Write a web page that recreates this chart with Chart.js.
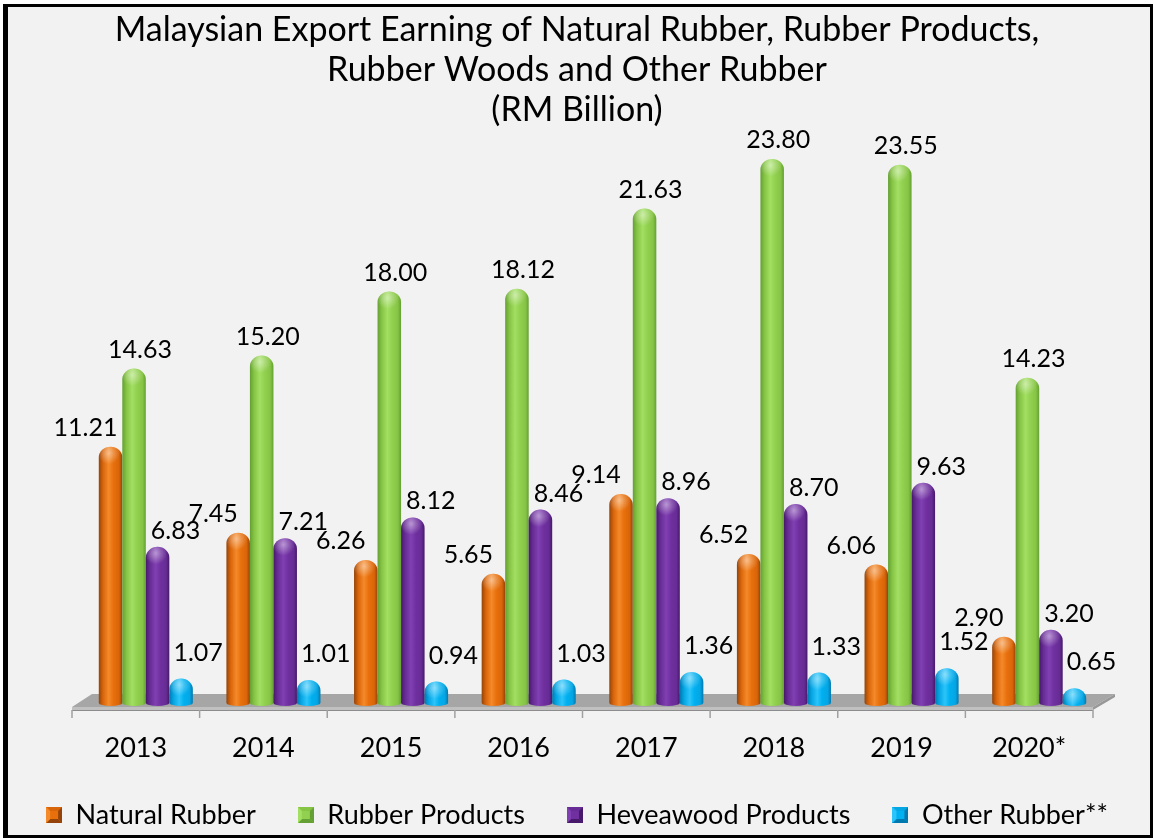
<!DOCTYPE html>
<html><head><meta charset="utf-8">
<script src="https://cdn.jsdelivr.net/npm/chart.js@4.4.0/dist/chart.umd.min.js"></script>
<style>
html,body{margin:0;padding:0;background:#fff;width:1154px;height:840px;overflow:hidden;}
#frame{position:absolute;left:3px;top:4px;width:1142px;height:828px;background:#f2f2f2;border:3px solid #000;border-left-width:5px;}
#c{position:absolute;left:0;top:0;}
</style></head><body>
<div id="frame"></div>
<canvas id="c" width="1154" height="840"></canvas>
<script>
// ---- data ----
const years = ['2013','2014','2015','2016','2017','2018','2019','2020*'];
const naturalRubber     = [11.21, 7.45, 6.26, 5.65, 9.14, 6.52, 6.06, 2.90];
const rubberProducts    = [14.63, 15.20, 18.00, 18.12, 21.63, 23.80, 23.55, 14.23];
const heveawoodProducts = [6.83, 7.21, 8.12, 8.46, 8.96, 8.70, 9.63, 3.20];
const otherRubber       = [1.07, 1.01, 0.94, 1.03, 1.36, 1.33, 1.52, 0.65];
const seriesNames = ['Natural Rubber', 'Rubber Products', 'Heveawood Products', 'Other Rubber**'];
const titleLines = ['Malaysian Export Earning of Natural Rubber, Rubber Products,', 'Rubber Woods and Other Rubber', '(RM Billion)'];
const yMax = 25;

// ---- styles ----
const FONT = 'Lato, "Open Sans", sans-serif';
const seriesStyle = [
  {base:'#E8700C', edge:'#94440a', mid:'#d9650a', light:'#f58a2a', lbl:{dx:-25, dy:-19}},
  {base:'#92D050', edge:'#64a033', mid:'#86c445', light:'#a2df62', lbl:{dx:6,  dy:-19}},
  {base:'#7030A0', edge:'#46196a', mid:'#672c95', light:'#8040b2', lbl:{dx:18, dy:-16}},
  {base:'#00B0F0', edge:'#0079b0', mid:'#05a6e4', light:'#2cc4fa', lbl:{dx:17, dy:-26}}
];
const BAR_SHIFT = 10;

function makeIcon(st){
  const c = document.createElement('canvas'); c.width = 16; c.height = 16;
  const g = c.getContext('2d');
  const tri = (pts, col) => { g.beginPath(); g.moveTo(pts[0],pts[1]); g.lineTo(pts[2],pts[3]); g.lineTo(pts[4],pts[5]); g.lineTo(pts[6],pts[7]); g.closePath(); g.fillStyle = col; g.fill(); };
  g.fillStyle = st.base; g.fillRect(0,0,16,16);
  tri([0,0,16,0,12,4,4,4], st.mid);
  tri([0,16,16,16,12,12,4,12], st.edge);
  tri([0,0,4,4,4,12,0,16], st.light);
  tri([16,0,12,4,12,12,16,16], st.edge);
  g.fillStyle = st.base; g.fillRect(4,4,8,8);
  return c;
}
const icons = seriesStyle.map(makeIcon);

function drawCylinder(ctx, cx, top, base, w, st){
  const r = w/2, L = cx - r, R = cx + r;
  const h = base - top;
  const ry = Math.min(r*0.9, h*0.75);
  const path = () => {
    ctx.beginPath();
    ctx.moveTo(L, base);
    ctx.lineTo(L, top + ry);
    ctx.ellipse(cx, top + ry, r, ry, 0, Math.PI, 2*Math.PI);
    ctx.lineTo(R, base);
    ctx.ellipse(cx, base, r, 3, 0, 0, Math.PI);
    ctx.closePath();
  };
  const g = ctx.createLinearGradient(L, 0, R, 0);
  g.addColorStop(0, st.edge);
  g.addColorStop(0.18, st.mid);
  g.addColorStop(0.42, st.light);
  g.addColorStop(0.62, st.base);
  g.addColorStop(0.86, st.mid);
  g.addColorStop(1, st.edge);
  ctx.save();
  path();
  ctx.fillStyle = g; ctx.fill();
  ctx.clip();
  const rg = ctx.createRadialGradient(cx - r*0.15, top + ry*0.6, 0, cx - r*0.15, top + ry*0.6, r*0.95);
  rg.addColorStop(0, 'rgba(255,255,255,0.45)');
  rg.addColorStop(1, 'rgba(255,255,255,0)');
  ctx.fillStyle = rg;
  ctx.fillRect(L, top, w, ry*2);
  ctx.restore();
}

const floorPlugin = {
  id: 'floor3d',
  beforeDatasetsDraw(chart){
    const {ctx, chartArea:{left, right, bottom}} = chart;
    const back = bottom - 9, front = bottom + 4, faceB = bottom + 7;
    const dL = 20, dR = 22;
    ctx.save();
    ctx.fillStyle = '#a6a6a6';
    ctx.beginPath(); ctx.moveTo(left, front); ctx.lineTo(right, front); ctx.lineTo(right + dR, back); ctx.lineTo(left + dL, back); ctx.closePath(); ctx.fill();
    ctx.fillStyle = '#c0c0c0'; ctx.fillRect(left, front, right - left, faceB - front);
    ctx.fillStyle = '#989898';
    ctx.beginPath(); ctx.moveTo(right, front); ctx.lineTo(right + dR, back); ctx.lineTo(right + dR, back + 3); ctx.lineTo(right, faceB); ctx.closePath(); ctx.fill();
    ctx.strokeStyle = '#8c8c8c'; ctx.lineWidth = 1;
    ctx.beginPath(); ctx.moveTo(left, faceB + 0.5); ctx.lineTo(right, faceB + 0.5); ctx.stroke();
    const xs = chart.scales.x;
    const n = years.length;
    ctx.strokeStyle = '#a0a0a0'; ctx.lineWidth = 1.5;
    for (let i = 0; i <= n; i++){
      let x;
      if (i === 0) x = left; else if (i === n) x = right;
      else x = (xs.getPixelForValue(i - 1) + xs.getPixelForValue(i)) / 2;
      ctx.beginPath(); ctx.moveTo(x, faceB); ctx.lineTo(x, faceB + 8); ctx.stroke();
    }
    ctx.restore();
  },
  afterDatasetsDraw(chart){
    const ctx = chart.ctx;
    const labels = [];
    chart.data.datasets.forEach((ds, di) => {
      const meta = chart.getDatasetMeta(di);
      const st = seriesStyle[di];
      meta.data.forEach((el, i) => {
        const p = el.getProps(['x','y','base','width'], true);
        drawCylinder(ctx, p.x + BAR_SHIFT, p.y, p.base, p.width, st);
        labels.push({x: p.x + BAR_SHIFT + st.lbl.dx, y: p.y + st.lbl.dy, t: ds.data[i].toFixed(2)});
      });
    });
    ctx.save();
    ctx.font = '25px ' + FONT;
    ctx.fillStyle = '#000';
    ctx.textAlign = 'center';
    ctx.textBaseline = 'middle';
    labels.forEach(l => ctx.fillText(l.t, l.x, l.y));
    ctx.restore();
  }
};

const seriesData = [naturalRubber, rubberProducts, heveawoodProducts, otherRubber];
const hiddenAxis = (pos, w) => ({
  display: true, position: pos, min: 0, max: yMax,
  grid: {display: false, drawTicks: false}, border: {display: false},
  ticks: {display: false},
  afterFit(s){ s.width = w; }
});

new Chart(document.getElementById('c'), {
  type: 'bar',
  data: {
    labels: years,
    datasets: seriesData.map((d, i) => ({
      label: seriesNames[i], data: d,
      backgroundColor: 'rgba(0,0,0,0)', borderWidth: 0,
      categoryPercentage: 0.737, barPercentage: 1
    }))
  },
  options: {
    responsive: false, animation: false, events: [],
    layout: {padding: {left: 0, right: 0, top: 0, bottom: 1.5}},
    scales: {
      x: {
        grid: {display: false, drawTicks: false, tickLength: 0},
        border: {display: false},
        ticks: {font: {family: FONT, size: 27, lineHeight: 0.8}, color: '#000', padding: 34.2},
        afterFit(s){ s.height = 56.5; }
      },
      y: hiddenAxis('left', 72),
      y2: hiddenAxis('right', 61)
    },
    plugins: {
      title: {display: true, text: titleLines, color: '#000',
        font: {family: FONT, size: 34, weight: 'normal', lineHeight: 40/34},
        padding: {top: 10, bottom: 1.5}},
      legend: {position: 'bottom',
        labels: {usePointStyle: true, boxWidth: 16, boxHeight: 16, padding: 42, color: '#000',
          font: {family: FONT, size: 27},
          generateLabels(chart){
            const items = Chart.defaults.plugins.legend.labels.generateLabels(chart);
            items.forEach((it, i) => { it.pointStyle = icons[i]; it.fillStyle = seriesStyle[i].base; it.strokeStyle = 'rgba(0,0,0,0)'; it.lineWidth = 0; });
            return items;
          }}},
      tooltip: {enabled: false}
    }
  },
  plugins: [floorPlugin]
});
</script>
</body></html>
